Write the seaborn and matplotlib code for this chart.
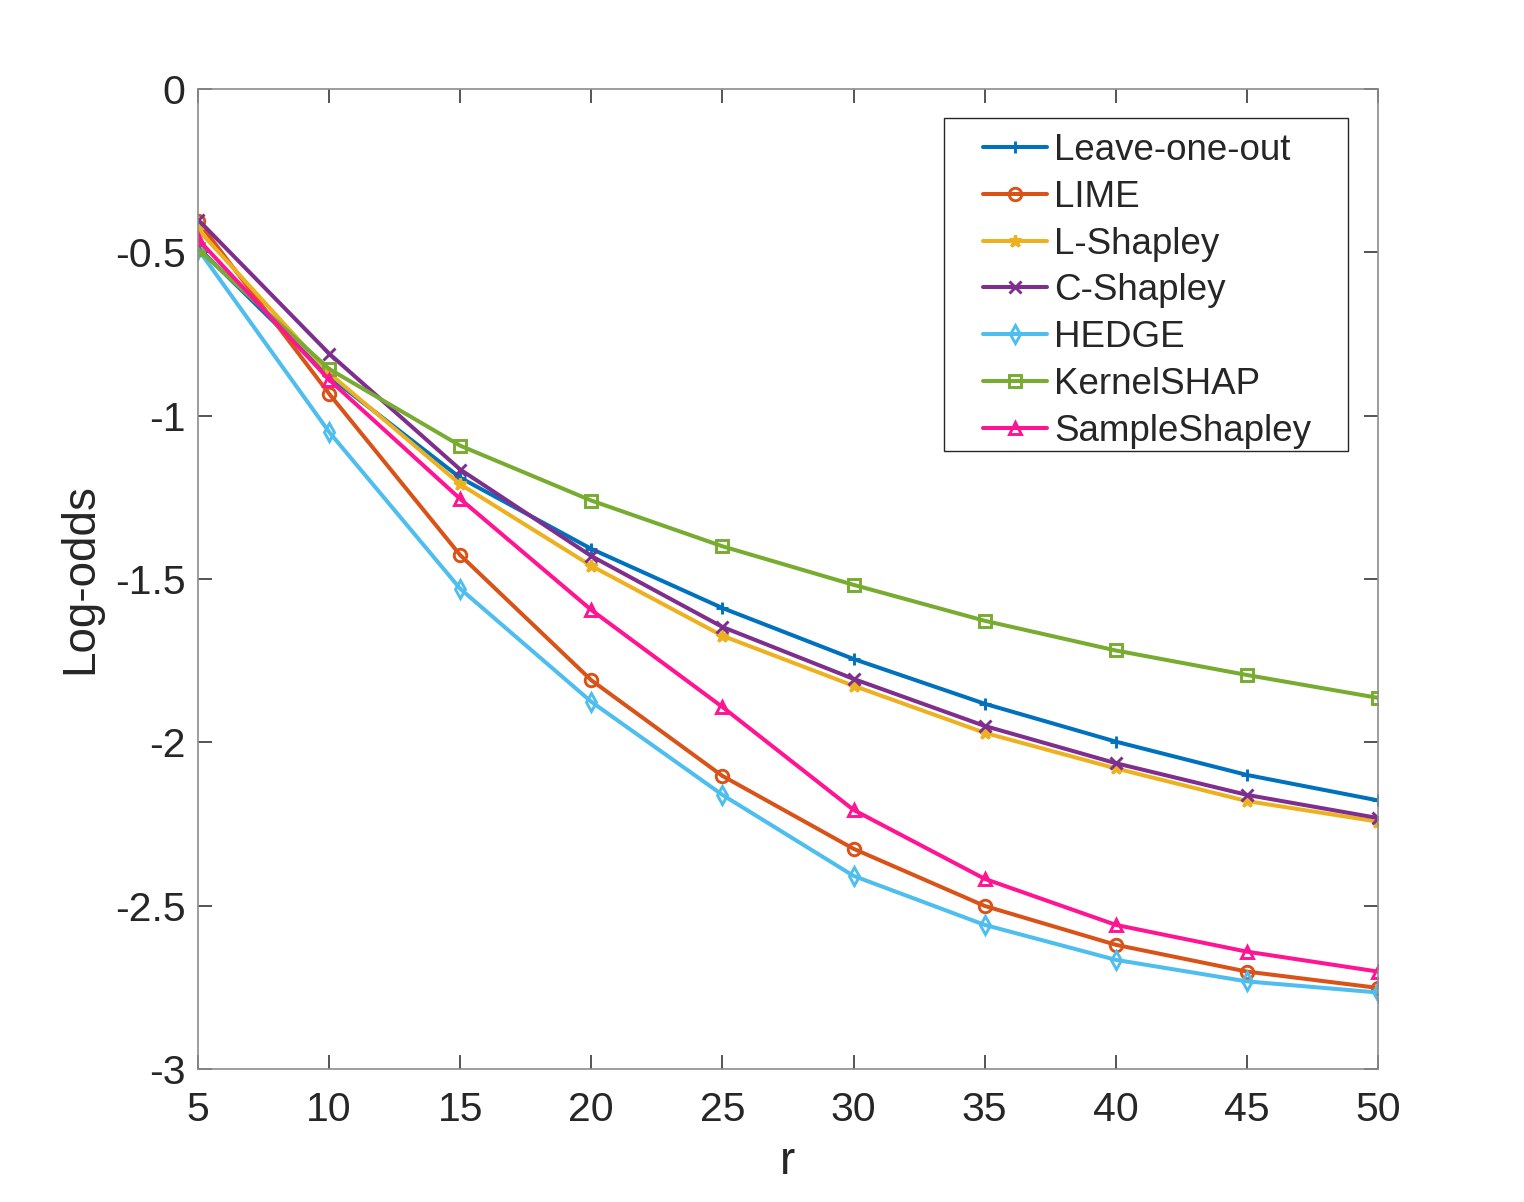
import numpy as np
import pandas as pd
import matplotlib
matplotlib.use("Agg")
import matplotlib.pyplot as plt
from matplotlib.patches import Rectangle
from matplotlib.ticker import FuncFormatter
import seaborn as sns

r_values = [5, 10, 15, 20, 25, 30, 35, 40, 45, 50]

leave_one_out = [-0.485, -0.88, -1.19, -1.408, -1.589, -1.745, -1.882, -1.998, -2.10, -2.178]
lime = [-0.405, -0.933, -1.427, -1.81, -2.103, -2.326, -2.501, -2.62, -2.702, -2.752]
l_shapley = [-0.43, -0.87, -1.21, -1.46, -1.674, -1.827, -1.971, -2.08, -2.18, -2.243]
c_shapley = [-0.40, -0.81, -1.165, -1.43, -1.647, -1.806, -1.95, -2.064, -2.161, -2.232]
hedge = [-0.49, -1.05, -1.53, -1.876, -2.161, -2.409, -2.559, -2.666, -2.732, -2.766]
kernel_shap = [-0.49, -0.857, -1.092, -1.26, -1.40, -1.518, -1.628, -1.719, -1.794, -1.864]
sample_shapley = [-0.46, -0.89, -1.255, -1.595, -1.892, -2.207, -2.418, -2.559, -2.641, -2.702]

methods = ["Leave-one-out", "LIME", "L-Shapley", "C-Shapley",
           "HEDGE", "KernelSHAP", "SampleShapley"]
series = [leave_one_out, lime, l_shapley, c_shapley, hedge, kernel_shap, sample_shapley]
colors = ["#0072BD", "#D95319", "#EDB120", "#7E2F8E", "#4DBEEE", "#77AC30", "#FF1493"]
markers = ["+", "o", "*", "x", "d", "s", "^"]

df = pd.DataFrame({
    "r": np.tile(r_values, len(methods)),
    "value": np.concatenate(series),
    "method": np.repeat(methods, len(r_values)),
})

sns.set_style("white")
plt.rcParams["font.family"] = ["Liberation Sans", "DejaVu Sans"]
plt.rcParams["axes.unicode_minus"] = False

fig = plt.figure(figsize=(15.24, 12.02), dpi=100)
ax = fig.add_axes([0.1299, 0.1107, 0.7743, 0.8153])

for name, color, mk in zip(methods, colors, markers):
    sub = df[df["method"] == name]
    sns.lineplot(data=sub, x="r", y="value", ax=ax, color=color, marker=mk,
                 label=name, linewidth=2.9, markersize=9, mfc="none",
                 mec=color, mew=2.1)

ax.set_xlim(5, 50)
ax.set_ylim(-3, 0)
ax.set_xticks(r_values)
ax.set_yticks(np.arange(-3, 0.01, 0.5))
ax.yaxis.set_major_formatter(FuncFormatter(lambda v, p: "%g" % v))

for s in ax.spines.values():
    s.set_color("#8c8c8c")
    s.set_linewidth(1.2)
ax.tick_params(direction="in", length=10, width=1.1, color="#262626",
               labelsize=29.5, labelcolor="#262626", top=True, right=True,
               bottom=True, left=True, pad=9)
ax.tick_params(axis="x", pad=16)

ax.set_xlabel("r", fontsize=33, color="#262626", labelpad=8)
ax.set_ylabel("Log-odds", fontsize=33, color="#262626", labelpad=9)

# legend box (matlab style: wide padding on the left)
ax.add_patch(Rectangle((0.632, 0.631), 0.3426, 0.339, transform=ax.transAxes,
                       facecolor="white", edgecolor="#262626", linewidth=1.0,
                       zorder=4))
leg = ax.legend(loc="upper left", bbox_to_anchor=(0.665, 0.955), fontsize=26.5,
                frameon=False, handlelength=1.74, handletextpad=0.2,
                labelspacing=0.32, borderpad=0, borderaxespad=0)
leg.set_zorder(5)

fig.savefig("out.png", dpi=100, facecolor="white")
